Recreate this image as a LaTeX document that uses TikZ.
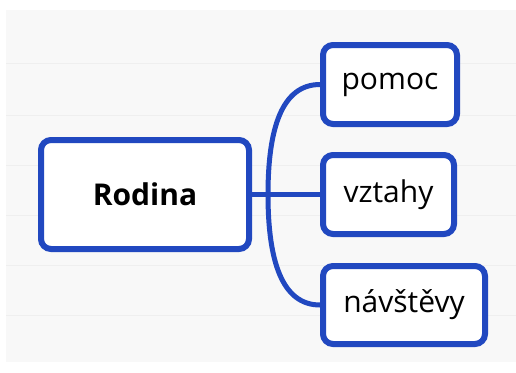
\documentclass[tikz,border=0pt]{standalone}
\usepackage{fontspec}
\setmainfont{Open Sans}
\definecolor{mapblue}{HTML}{2148C0}
\definecolor{bggray}{HTML}{F8F8F8}
\definecolor{rulegray}{HTML}{EFEFEF}
\begin{document}
\begin{tikzpicture}[x=1pt,y=-1pt,
  mapbox/.style={draw=mapblue,line width=6pt,rounded corners=10pt,fill=white,inner sep=0pt,font=\fontsize{30}{34}\selectfont},
  link/.style={draw=mapblue,line width=5pt}]
\useasboundingbox (0,0) rectangle (516,372);
\fill[white] (0,0) rectangle (516,372);
\fill[bggray] (6,10) rectangle (516,362);
\foreach \yy in {63,115,165,215,265,315}
  \draw[rulegray,line width=0.8pt] (6,\yy) -- (516,\yy);
\node[mapbox,minimum width=208pt,minimum height=109pt,font=\fontsize{30}{34}\selectfont\bfseries] (R) at (145,194.5) {Rodina};
\node[mapbox,minimum width=134pt,minimum height=79pt] (P) at (390,84.5) {pomoc};
\node[mapbox,minimum width=131pt,minimum height=79pt] (V) at (388.5,194.5) {vztahy};
\node[mapbox,minimum width=162pt,minimum height=78pt] (N) at (404,305) {návštěvy};
\coordinate (J) at (268,194.5);
\draw[link] (R.east) -- (V.west);
\draw[link] (J) .. controls (268,128) and (282,84.5) .. (P.west);
\draw[link] (J) .. controls (268,261) and (282,305) .. (N.west);
\end{tikzpicture}
\end{document}
